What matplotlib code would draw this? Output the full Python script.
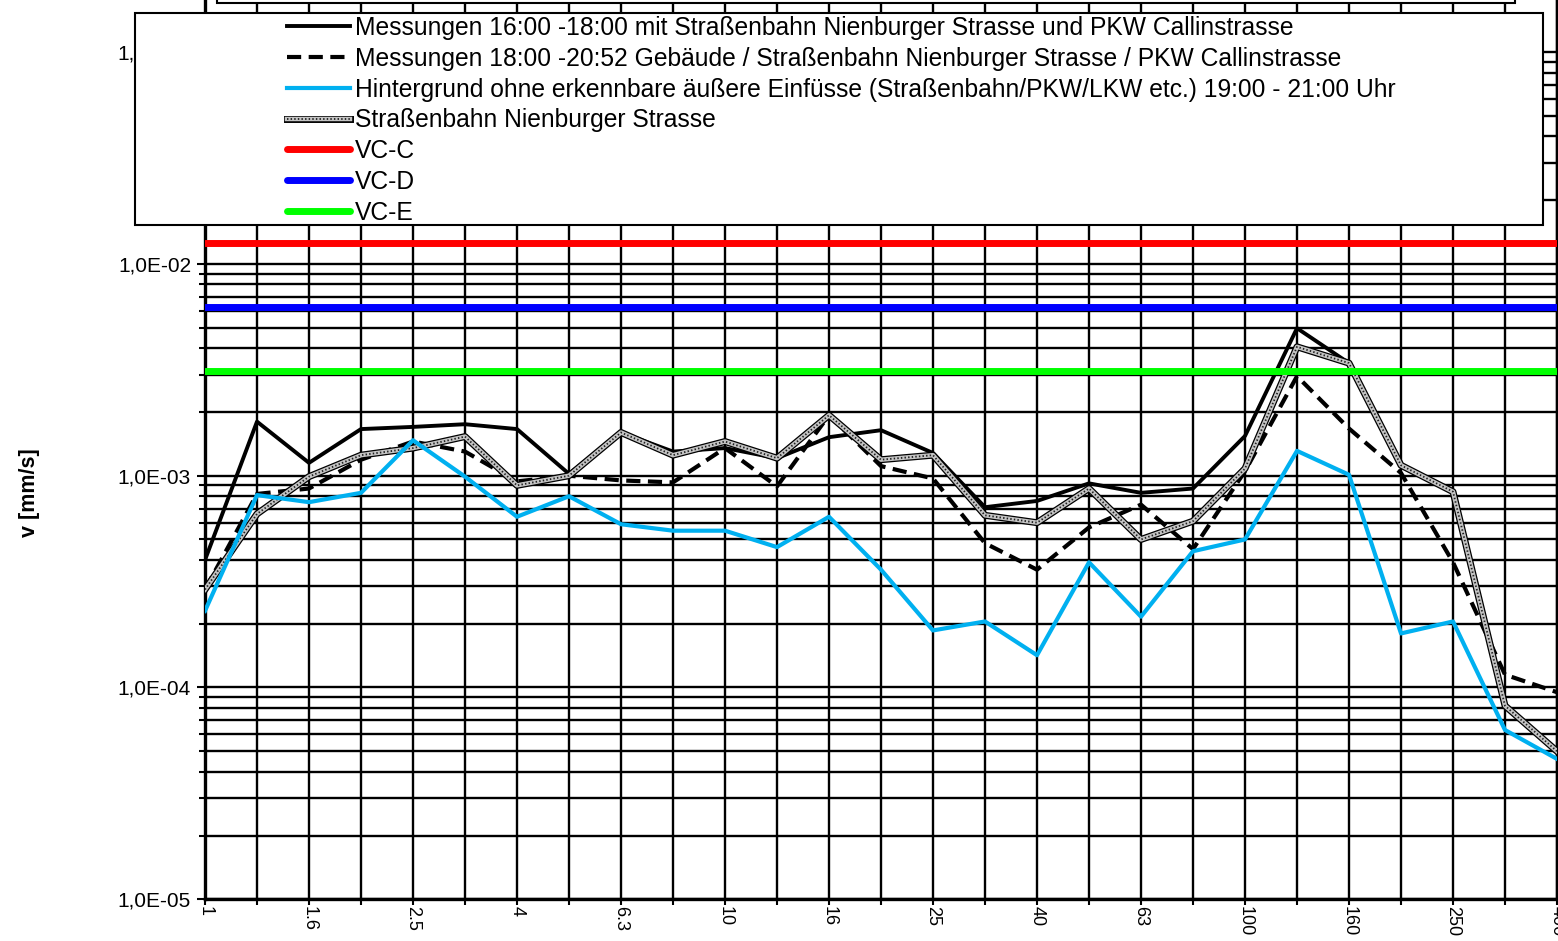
import numpy as np
import matplotlib
matplotlib.use("Agg")
import matplotlib.pyplot as plt
from matplotlib.patches import Rectangle
from matplotlib.ticker import FuncFormatter, LogLocator, NullFormatter

plt.rcParams['font.family'] = ['Liberation Sans', 'DejaVu Sans']

# Terzband-Mittenfrequenzen [Hz]
freq_labels = ["1", "1.25", "1.6", "2", "2.5", "3.15", "4", "5", "6.3", "8",
               "10", "12.5", "16", "20", "25", "31.5", "40", "50", "63", "80",
               "100", "125", "160", "200", "250", "315", "400"]

# Schwinggeschwindigkeit v [mm/s]
mess_16_18 = [4.0e-4, 1.80e-3, 1.15e-3, 1.66e-3, 1.70e-3, 1.75e-3, 1.66e-3, 1.02e-3, 1.60e-3,
              1.30e-3, 1.35e-3, 1.21e-3, 1.52e-3, 1.64e-3, 1.28e-3, 7.1e-4, 7.6e-4, 9.2e-4,
              8.3e-4, 8.7e-4, 1.54e-3, 4.97e-3, 3.40e-3, np.nan, np.nan, np.nan, np.nan]
mess_18_2052 = [2.9e-4, 8.2e-4, 8.7e-4, 1.19e-3, 1.45e-3, 1.30e-3, 9.4e-4, 1.00e-3, 9.5e-4,
                9.3e-4, 1.35e-3, 8.9e-4, 1.93e-3, 1.11e-3, 9.7e-4, 4.8e-4, 3.6e-4, 5.7e-4,
                7.3e-4, 4.5e-4, 1.05e-3, 2.95e-3, 1.67e-3, 1.03e-3, 3.9e-4, 1.15e-4, 9.5e-5]
hintergrund = [2.3e-4, 8.1e-4, 7.5e-4, 8.3e-4, 1.47e-3, 9.9e-4, 6.4e-4, 8.0e-4, 5.9e-4,
               5.5e-4, 5.5e-4, 4.6e-4, 6.4e-4, 3.6e-4, 1.86e-4, 2.05e-4, 1.42e-4, 3.9e-4,
               2.16e-4, 4.4e-4, 5.0e-4, 1.31e-3, 1.01e-3, 1.8e-4, 2.05e-4, 6.3e-5, 4.6e-5]
strassenbahn = [2.9e-4, 6.6e-4, 9.9e-4, 1.25e-3, 1.35e-3, 1.53e-3, 9.0e-4, 1.00e-3, 1.60e-3,
                1.25e-3, 1.45e-3, 1.21e-3, 1.93e-3, 1.19e-3, 1.25e-3, 6.5e-4, 6.0e-4, 8.7e-4,
                5.0e-4, 6.1e-4, 1.08e-3, 4.06e-3, 3.40e-3, 1.12e-3, 8.4e-4, 8.2e-5, 5.0e-5]

# VC-Kriterien [mm/s]
vc_c = 12.5e-3
vc_d = 6.25e-3
vc_e = 3.125e-3

labels = [
    "Messungen 16:00 -18:00 mit Straßenbahn Nienburger Strasse und PKW Callinstrasse",
    "Messungen 18:00 -20:52 Gebäude / Straßenbahn Nienburger Strasse / PKW Callinstrasse",
    "Hintergrund ohne erkennbare äußere Einfüsse (Straßenbahn/PKW/LKW etc.) 19:00 - 21:00 Uhr",
    "Straßenbahn Nienburger Strasse",
    "VC-C",
    "VC-D",
    "VC-E",
]

W, H = 1558, 941
fig = plt.figure(figsize=(W / 100, H / 100), dpi=100)
y_top = 0.9
decade_px = 211.8
ax_h = np.log10(y_top / 1e-5) * decade_px
# plot area runs above the top edge of the image
ax = fig.add_axes([205 / W, (H - 899.3) / H, (1557 - 205) / W, ax_h / H])

x = np.arange(len(freq_labels))

l1, = ax.plot(x, mess_16_18, color='black', lw=2.8, zorder=3)
l2, = ax.plot(x, mess_18_2052, color='black', lw=3.0, ls=(0, (3.4, 1.8)), zorder=3)
g_base, = ax.plot(x, strassenbahn, color='black', lw=5.0, zorder=4)
g_mid, = ax.plot(x, strassenbahn, color='#c4c4c4', lw=3.2, zorder=4)
g_dots, = ax.plot(x, strassenbahn, color='#202020', lw=1.3, ls=(0, (0.8, 1.2)), zorder=4)
l3, = ax.plot(x, hintergrund, color='#00b0f0', lw=3.0, zorder=5)
c, = ax.plot(x, np.full(len(x), vc_c), color='#ff0000', lw=5, zorder=6, solid_capstyle='round')
d, = ax.plot(x, np.full(len(x), vc_d), color='#0000ff', lw=5, zorder=6, solid_capstyle='round')
e, = ax.plot(x, np.full(len(x), vc_e), color='#00ff00', lw=5, zorder=6, solid_capstyle='round')

ax.set_yscale('log')
ax.set_ylim(1e-5, y_top)
ax.set_xlim(0, 26)

ax.yaxis.set_major_locator(LogLocator(base=10, numticks=10))
ax.yaxis.set_minor_locator(LogLocator(base=10, subs=np.arange(2, 10), numticks=20))
ax.yaxis.set_minor_formatter(NullFormatter())
ax.yaxis.set_major_formatter(FuncFormatter(
    lambda v, _: "1,0E%+03d" % int(round(np.log10(v))) if v > 0 else ""))

ax.set_xticks(x)
ax.set_xticklabels([lab if i % 2 == 0 else "" for i, lab in enumerate(freq_labels)],
                   rotation=-90, fontsize=13)
ax.tick_params(axis='x', length=4, width=1.5, pad=1, direction='out')
ax.tick_params(axis='y', which='major', length=6, width=1.5, pad=4, labelsize=15)
ax.tick_params(axis='y', which='minor', length=4, width=1.5)

ax.grid(True, axis='y', which='both', color='black', lw=1.7, zorder=1)
ax.grid(True, axis='x', which='major', color='black', lw=1.7, zorder=1)
ax.set_axisbelow(True)

ax.spines['top'].set_visible(False)
ax.spines['left'].set_linewidth(2.4)
ax.spines['bottom'].set_linewidth(2.4)
ax.spines['right'].set_linewidth(1.7)

fig.text(30 / W, 1 - 493 / H, "v [mm/s]", rotation=90, fontsize=15.5, fontweight='bold',
         ha='center', va='center')

# Titelrahmen (oben abgeschnitten) und Legendenrahmen
fig.add_artist(Rectangle((217 / W, 1 - 2.7 / H), (1515 - 217) / W, 30 / H,
                         transform=fig.transFigure, facecolor='white',
                         edgecolor='black', lw=1.5, zorder=2))
fig.add_artist(Rectangle((135 / W, 1 - 225.3 / H), (1543 - 135) / W, (225.3 - 12.7) / H,
                         transform=fig.transFigure, facecolor='white',
                         edgecolor='black', lw=1.5, zorder=2))

fig.legend([l1, l2, l3, (g_base, g_mid, g_dots), c, d, e], labels,
           loc='upper left', bbox_to_anchor=(287 / W, 1 - 16 / H),
           frameon=False, fontsize=17.7, handlelength=2.55, handletextpad=0.2,
           labelspacing=0.275, borderpad=0, borderaxespad=0)

fig.savefig("out.png", dpi=100)
